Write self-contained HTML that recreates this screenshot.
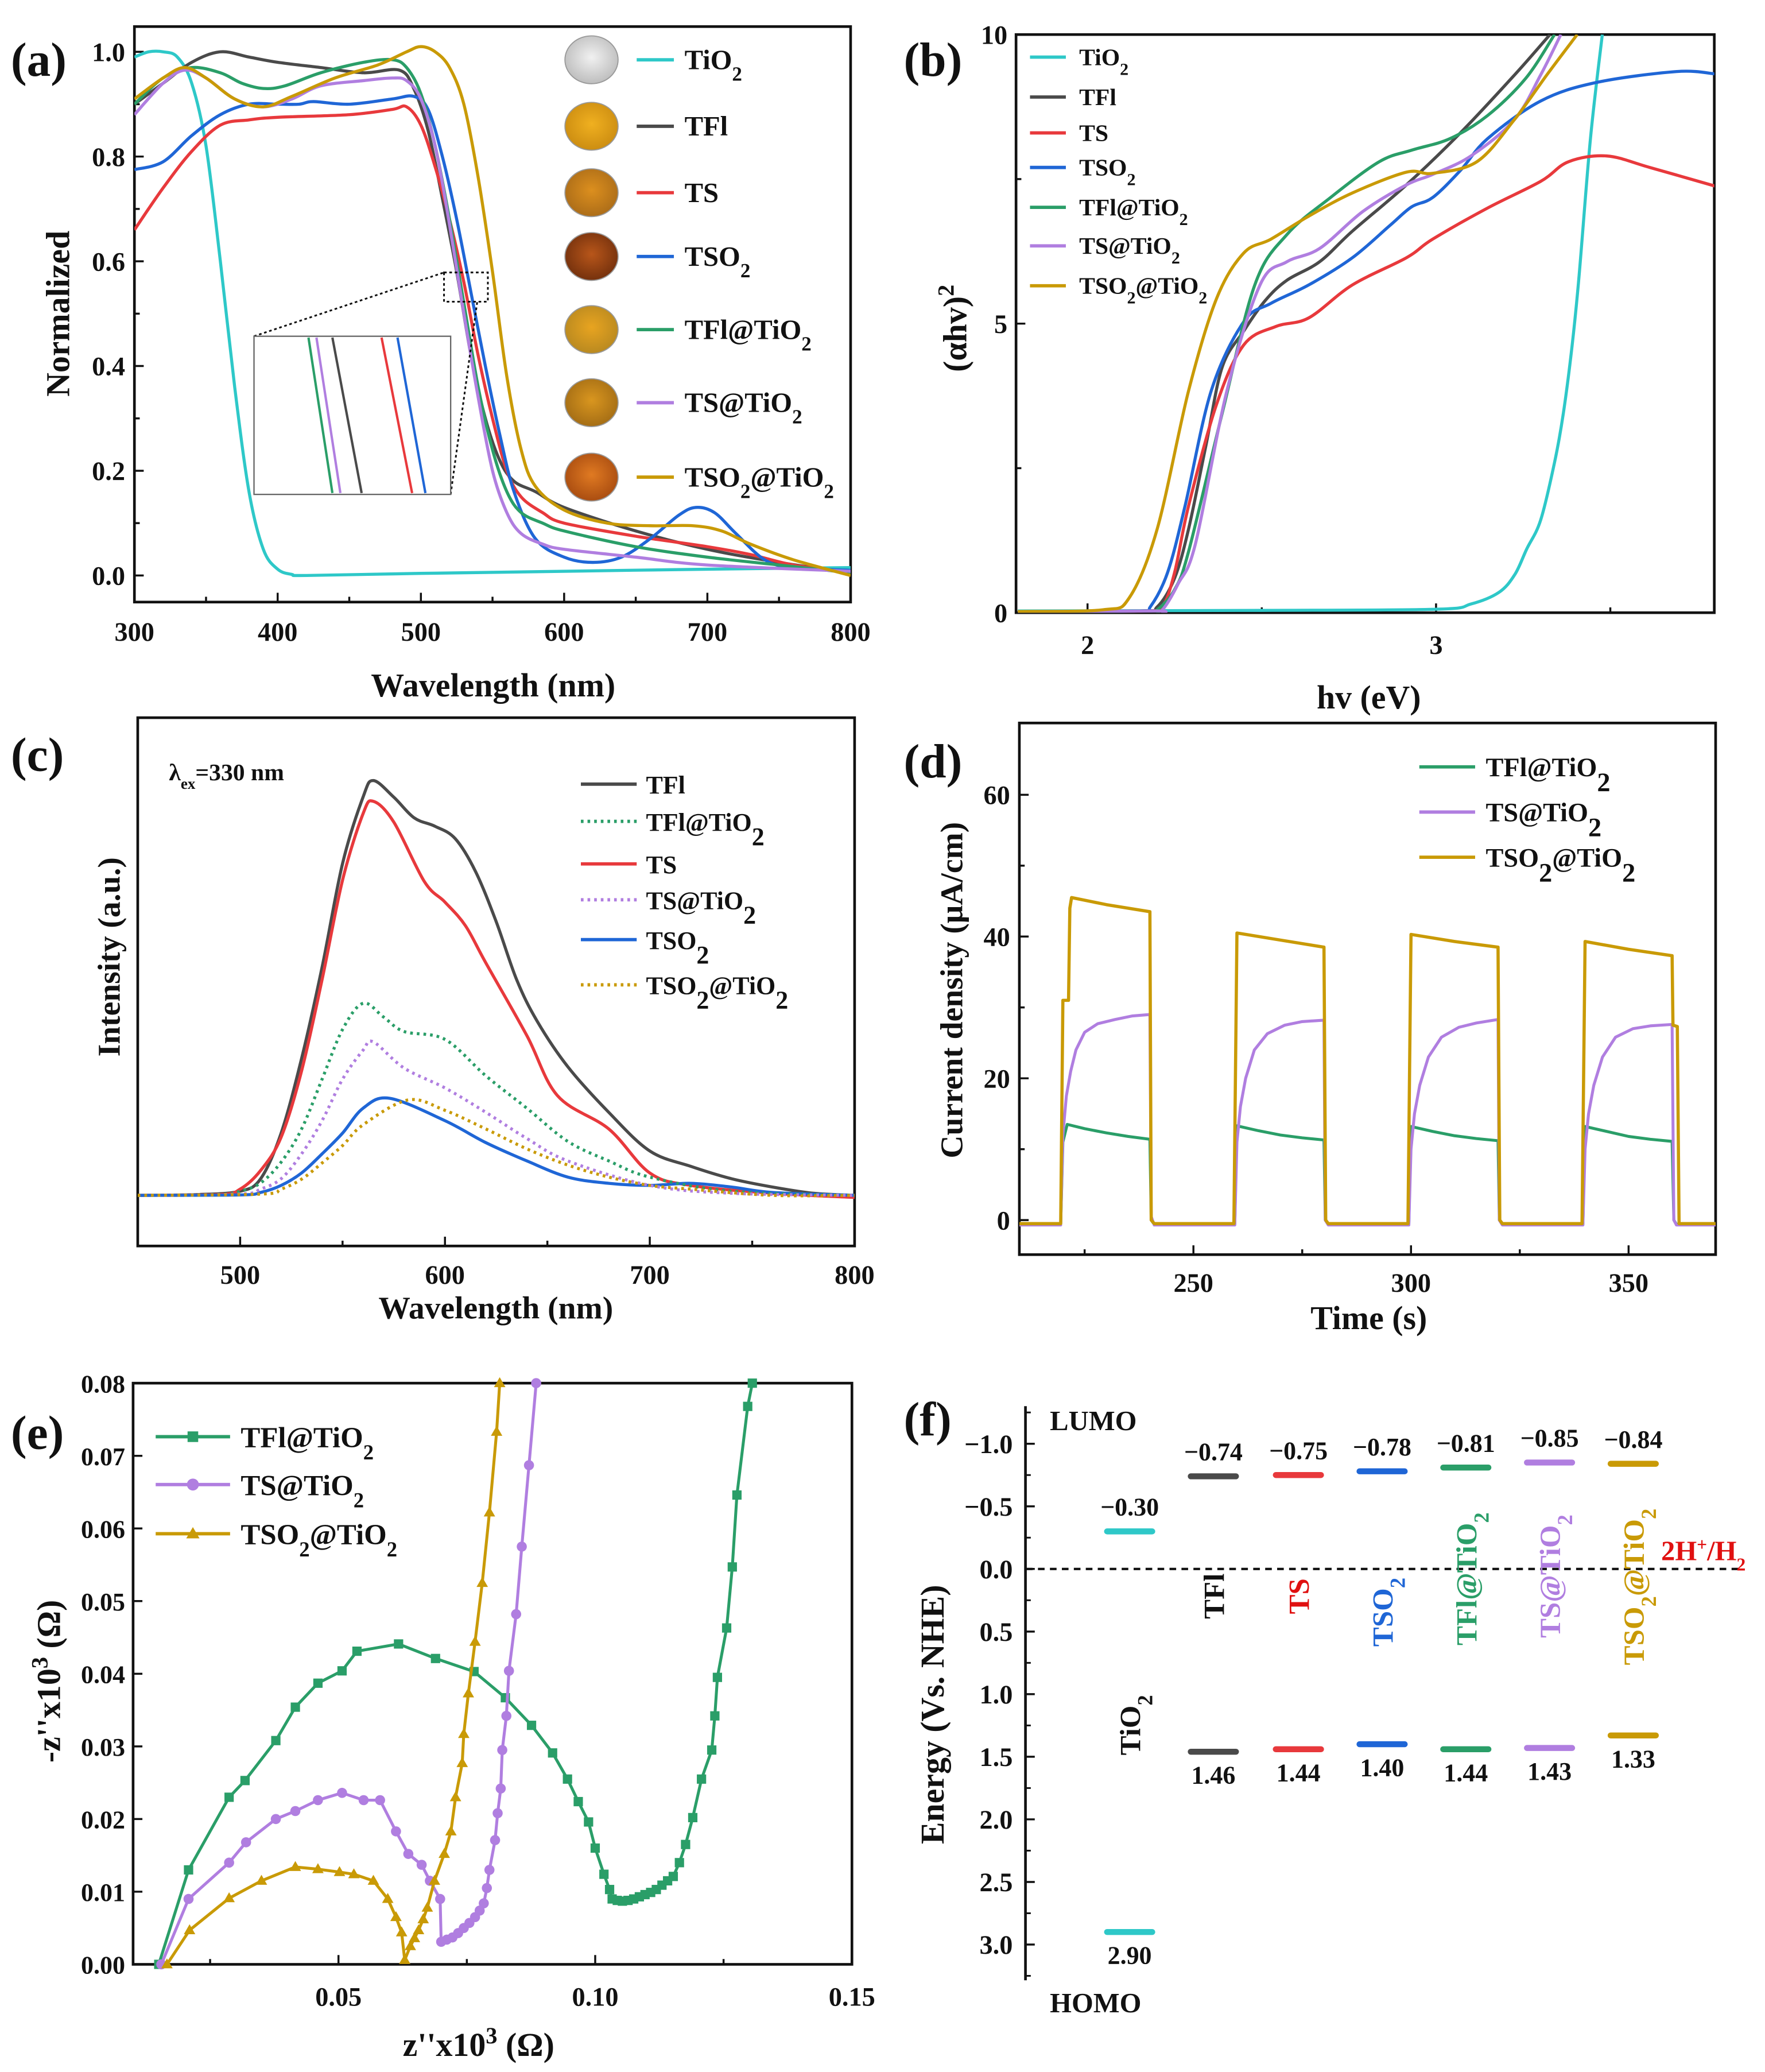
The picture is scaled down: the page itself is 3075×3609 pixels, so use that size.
<!DOCTYPE html>
<html><head><meta charset="utf-8"><style>
html,body{margin:0;padding:0;background:#fff}
svg{display:block}
text{font-family:"Liberation Serif",serif;font-weight:bold}
</style></head><body>
<svg id="fig" xmlns="http://www.w3.org/2000/svg" width="3075" height="3609" viewBox="0 0 1328 1559">
<defs>
<radialGradient id="gw" cx="50%" cy="45%" r="60%"><stop offset="0" stop-color="#f1f1f1"/><stop offset="1" stop-color="#b9b9b9"/></radialGradient>
<radialGradient id="go1" cx="50%" cy="45%" r="60%"><stop offset="0" stop-color="#f0b020"/><stop offset="1" stop-color="#c98a10"/></radialGradient>
<radialGradient id="go2" cx="50%" cy="45%" r="60%"><stop offset="0" stop-color="#dc8f1e"/><stop offset="1" stop-color="#a86a18"/></radialGradient>
<radialGradient id="go3" cx="50%" cy="45%" r="60%"><stop offset="0" stop-color="#b8561a"/><stop offset="1" stop-color="#6f2e0c"/></radialGradient>
<radialGradient id="go4" cx="50%" cy="45%" r="60%"><stop offset="0" stop-color="#e8a420"/><stop offset="1" stop-color="#b58720"/></radialGradient>
<radialGradient id="go5" cx="50%" cy="45%" r="60%"><stop offset="0" stop-color="#d9961f"/><stop offset="1" stop-color="#a06a14"/></radialGradient>
<radialGradient id="go6" cx="50%" cy="45%" r="60%"><stop offset="0" stop-color="#e07a22"/><stop offset="1" stop-color="#a5490f"/></radialGradient>
</defs>
<g id="root"></g>
</svg>
<script>
// ---------- data: panel (a) UV-vis ----------
const aTiO2=[[300,0.99],[310,1.0],[320,1.0],[330,0.99],[340,0.94],[350,0.82],[360,0.6],[370,0.36],[380,0.16],[390,0.05],[400,0.012],[410,0.002],[420,0],[500,0.004],[600,0.008],[700,0.012],[800,0.015]];
const aTFl=[[300,0.9],[320,0.94],[340,0.98],[360,1.0],[380,0.99],[400,0.98],[430,0.97],[460,0.96],[485,0.965],[495,0.93],[505,0.85],[515,0.72],[525,0.58],[535,0.42],[545,0.3],[555,0.22],[565,0.18],[580,0.16],[600,0.13],[650,0.085],[700,0.05],[750,0.025],[800,0.005]];
const aTS=[[300,0.66],[320,0.74],[340,0.81],[360,0.86],[380,0.87],[400,0.875],[450,0.88],[480,0.89],[490,0.895],[500,0.86],[510,0.78],[520,0.68],[530,0.56],[540,0.42],[550,0.3],[560,0.2],[570,0.15],[585,0.12],[600,0.1],[650,0.075],[700,0.055],[730,0.04],[760,0.02],[800,0.005]];
const aTSO2=[[300,0.775],[320,0.79],[340,0.84],[360,0.88],[380,0.9],[400,0.9],[415,0.9],[425,0.905],[450,0.9],[480,0.91],[495,0.915],[505,0.89],[515,0.8],[525,0.68],[535,0.54],[545,0.4],[555,0.27],[565,0.16],[580,0.07],[600,0.035],[620,0.025],[640,0.035],[660,0.07],[680,0.115],[692,0.13],[705,0.12],[720,0.08],[740,0.03],[760,0.015],[800,0.01]];
const aTFlTi=[[300,0.9],[320,0.95],[340,0.97],[360,0.96],[375,0.94],[390,0.93],[405,0.935],[430,0.96],[460,0.98],[480,0.985],[490,0.97],[500,0.92],[510,0.82],[520,0.68],[530,0.52],[540,0.36],[550,0.24],[560,0.16],[570,0.12],[585,0.1],[600,0.085],[650,0.055],[700,0.035],[750,0.02],[800,0.005]];
const aTSTi=[[300,0.88],[320,0.94],[335,0.965],[350,0.95],[370,0.91],[390,0.895],[410,0.91],[430,0.935],[460,0.945],[480,0.95],[490,0.945],[500,0.91],[510,0.82],[520,0.67],[530,0.5],[540,0.34],[550,0.2],[560,0.12],[570,0.08],[585,0.06],[600,0.05],[650,0.035],[700,0.02],[800,0.008]];
const aTSO2Ti=[[300,0.91],[320,0.95],[335,0.97],[350,0.95],[370,0.91],[390,0.895],[410,0.915],[440,0.95],[470,0.975],[490,1.0],[500,1.01],[510,1.0],[520,0.97],[530,0.9],[540,0.76],[550,0.58],[560,0.38],[570,0.24],[580,0.17],[600,0.125],[630,0.1],[660,0.095],[690,0.095],[710,0.085],[730,0.06],[760,0.03],[800,0.0]];
// ---------- data: panel (b) Tauc ----------
const bTiO2=[[1.8,0.03],[2.5,0.04],[3.0,0.06],[3.1,0.15],[3.18,0.35],[3.226,0.66],[3.26,1.1],[3.3,1.6],[3.34,2.6],[3.365,3.44],[3.39,4.6],[3.41,5.8],[3.443,8.2],[3.477,10]];
const bTFl=[[1.8,0.02],[2.15,0.03],[2.2,0.1],[2.25,0.6],[2.29,1.45],[2.34,2.9],[2.386,4.24],[2.448,4.87],[2.51,5.4],[2.572,5.75],[2.666,6.07],[2.76,6.6],[2.915,7.4],[3.07,8.3],[3.225,9.3],[3.327,10]];
const bTS=[[1.8,0.02],[2.17,0.03],[2.215,0.1],[2.25,0.7],[2.29,1.85],[2.37,3.6],[2.448,4.63],[2.54,4.95],[2.635,5.1],[2.76,5.67],[2.915,6.14],[2.99,6.46],[3.148,7.0],[3.3,7.46],[3.38,7.8],[3.49,7.9],[3.614,7.7],[3.8,7.38]];
const bTSO2=[[1.8,0.02],[2.15,0.03],[2.18,0.1],[2.23,0.7],[2.28,1.85],[2.355,3.84],[2.448,5.03],[2.526,5.35],[2.635,5.67],[2.76,6.14],[2.868,6.7],[2.93,7.02],[2.99,7.18],[3.07,7.65],[3.148,8.2],[3.3,8.85],[3.459,9.17],[3.69,9.36],[3.8,9.32]];
const bTFlTi=[[1.8,0.02],[2.17,0.03],[2.2,0.05],[2.25,0.4],[2.29,1.06],[2.386,3.44],[2.48,5.67],[2.572,6.54],[2.697,7.18],[2.837,7.8],[2.93,8.0],[3.04,8.2],[3.148,8.6],[3.257,9.24],[3.34,10]];
const bTSTi=[[1.8,0.02],[2.19,0.03],[2.215,0.05],[2.26,0.5],[2.31,1.2],[2.4,3.84],[2.495,5.67],[2.572,6.07],[2.666,6.3],[2.79,6.94],[2.915,7.4],[2.99,7.58],[3.1,7.9],[3.225,8.53],[3.3,9.3],[3.358,10]];
const bTSO2Ti=[[1.8,0.02],[2.044,0.05],[2.12,0.26],[2.2,1.45],[2.29,3.84],[2.37,5.43],[2.448,6.22],[2.526,6.46],[2.635,6.86],[2.76,7.26],[2.915,7.62],[2.99,7.6],[3.117,7.8],[3.225,8.53],[3.32,9.32],[3.405,10]];
// ---------- data: panel (c) PL ----------
const cTFl=[[450,0],[480,0.2],[500,1],[510,4],[520,15],[530,33],[540,55],[550,80],[560,96],[565,100],[575,96],[585,91],[595,89],[605,86],[615,78],[625,66],[635,52],[645,42],[660,31],[680,20],[700,10.7],[720,7],[740,4],[760,2],[780,0.5],[800,0]];
const cTFlTi=[[450,0],[490,0.2],[500,1],[510,3],[520,8],[530,16],[540,28],[550,40],[560,46.3],[570,43],[580,39.5],[600,37.6],[620,28.8],[640,21],[660,13],[680,8.3],[700,4.4],[740,1],[800,0]];
const cTS=[[450,0],[490,0.2],[500,1.5],[510,6],[520,14],[530,30],[540,52],[550,76],[560,92],[565,95],[575,90],[590,75.6],[600,70.7],[610,65],[620,56],[640,38.5],[655,24],[680,16],[700,5.4],[720,2.4],[760,0.5],[800,-0.5]];
const cTSTi=[[450,0],[500,0.3],[510,1.5],[520,4],[530,10],[540,18],[550,28],[560,35],[565,37],[580,30.7],[600,25.9],[620,20],[640,13.7],[660,8.3],[700,2.4],[740,0.5],[800,0]];
const cTSO2=[[450,0],[500,0.1],[510,0.7],[520,2.4],[530,5.4],[540,10],[550,15],[560,21],[573,23.4],[600,18],[620,12.7],[640,8.3],[660,4.4],[680,2.9],[700,2.4],[720,2.9],[740,2],[760,0.7],[800,0]];
const cTSO2Ti=[[450,0],[510,0.3],[520,1.5],[530,3.9],[540,7.8],[550,12],[560,17],[582,23],[600,20.5],[620,16],[640,11.2],[660,7.3],[680,4.4],[700,2.4],[720,1.5],[760,0],[800,0]];
// ---------- data: panel (d) photocurrent ----------
const dTSO2Ti=[[210,-0.5],[219.5,-0.5],[220,31],[221.3,31],[221.6,44],[222,45.5],[230,44.5],[240,43.5],[240.3,0],[241,-0.5],[259.3,-0.5],[260,40.5],[270,39.5],[280,38.5],[280.4,0],[281,-0.5],[299.3,-0.5],[300,40.3],[310,39.3],[320,38.5],[320.4,0],[321,-0.5],[339.3,-0.5],[340,39.3],[350,38.2],[360,37.3],[360.2,27.5],[361.2,27.3],[361.6,-0.5],[370,-0.5]];
const dTSTi=[[210,-0.7],[219.5,-0.7],[220,12],[220.8,17.5],[221.8,21],[223,24],[225,26.5],[228,27.7],[232,28.3],[236,28.8],[240,29],[240.3,0.5],[241,-0.7],[259.5,-0.7],[260,11],[260.8,16],[262,20],[264,24],[267,26.3],[271,27.5],[275,28],[280,28.2],[280.3,0],[281,-0.7],[299.5,-0.7],[300,10],[300.8,15],[302,19],[304,23],[307,25.8],[311,27.2],[315,27.8],[320,28.3],[320.3,0],[321,-0.7],[339.5,-0.7],[340,10],[340.8,15],[342,19],[344,23],[347,25.8],[351,27],[355,27.4],[360,27.6],[360.4,0],[361,-0.7],[370,-0.7]];
const dTFlTi=[[210,-0.6],[219.5,-0.6],[220,11],[221,13.5],[225,12.9],[230,12.3],[235,11.8],[240,11.4],[240.3,0],[241,-0.6],[259.5,-0.6],[260,13.3],[265,12.6],[270,12],[275,11.6],[280,11.3],[280.3,0],[281,-0.6],[299.5,-0.6],[300,13.2],[305,12.5],[310,11.9],[315,11.5],[320,11.2],[320.3,0],[321,-0.6],[339.5,-0.6],[340,13.2],[345,12.5],[350,11.8],[355,11.4],[360,11.1],[360.4,0],[361,-0.6],[370,-0.6]];
// ---------- data: panel (e) Nyquist ----------
const eTFlTi=[[0.015,0],[0.0208,0.013],[0.0287,0.023],[0.0318,0.0253],[0.0378,0.0308],[0.0416,0.0354],[0.046,0.0387],[0.0507,0.0404],[0.0536,0.0431],[0.0617,0.0441],[0.0689,0.0421],[0.0764,0.0403],[0.0825,0.0367],[0.0876,0.0329],[0.0917,0.0291],[0.0946,0.0255],[0.0967,0.0224],[0.0987,0.0196],[0.1,0.016],[0.1017,0.0124],[0.1028,0.0103],[0.1033,0.009],[0.1043,0.0088],[0.1053,0.0087],[0.1064,0.0088],[0.1075,0.009],[0.1086,0.0093],[0.1097,0.0096],[0.1108,0.0099],[0.1119,0.0103],[0.113,0.0109],[0.1141,0.0115],[0.1152,0.0121],[0.1164,0.014],[0.1176,0.0165],[0.119,0.0202],[0.1207,0.0255],[0.1227,0.0295],[0.1233,0.0342],[0.1238,0.0395],[0.1256,0.0463],[0.1267,0.0547],[0.1276,0.0646],[0.1297,0.0768],[0.1306,0.08]];
const eTSTi=[[0.0155,0],[0.0208,0.009],[0.0287,0.014],[0.032,0.0168],[0.0378,0.02],[0.0416,0.0211],[0.046,0.0226],[0.0507,0.0236],[0.0549,0.0226],[0.0581,0.0226],[0.0612,0.0183],[0.0636,0.0152],[0.0662,0.0137],[0.0678,0.0115],[0.0698,0.009],[0.07,0.0031],[0.0711,0.0034],[0.0722,0.0037],[0.0733,0.0043],[0.0744,0.005],[0.0755,0.0057],[0.0766,0.0065],[0.0775,0.0074],[0.0783,0.0084],[0.0789,0.0105],[0.0794,0.013],[0.0805,0.0171],[0.081,0.0208],[0.0816,0.0242],[0.0819,0.0295],[0.0827,0.0342],[0.0832,0.0404],[0.0846,0.0482],[0.0857,0.0575],[0.0871,0.0687],[0.0885,0.08]];
const eTSO2Ti=[[0.0166,0],[0.021,0.0047],[0.0287,0.0091],[0.035,0.0115],[0.0416,0.0134],[0.046,0.0131],[0.0502,0.0127],[0.053,0.0124],[0.0568,0.0115],[0.0596,0.009],[0.0612,0.0065],[0.0623,0.0044],[0.0629,0.0006],[0.064,0.0025],[0.0648,0.0036],[0.0656,0.0047],[0.0665,0.0062],[0.0673,0.0078],[0.0687,0.0115],[0.0706,0.0152],[0.0719,0.0183],[0.0728,0.023],[0.0741,0.0277],[0.0744,0.0317],[0.0753,0.0373],[0.0766,0.0444],[0.078,0.0525],[0.0794,0.0622],[0.0808,0.0733],[0.0814,0.08]];
// ---------- data: panel (f) energy levels ----------
const fNames=['TiO2','TFl','TS','TSO2','TFl@TiO2','TS@TiO2','TSO2@TiO2'];
const fLumo=[-0.30,-0.74,-0.75,-0.78,-0.81,-0.85,-0.84];
const fHomo=[2.90,1.46,1.44,1.40,1.44,1.43,1.33];
const fLumoLabels=['\u22120.30','\u22120.74','\u22120.75','\u22120.78','\u22120.81','\u22120.85','\u22120.84'];
const fHomoLabels=['2.90','1.46','1.44','1.40','1.44','1.43','1.33'];
const fTicks=[-1.0,-0.5,0.0,0.5,1.0,1.5,2.0,2.5,3.0];

const C={TiO2:'#2ec8c8',TFl:'#4a4a4a',TS:'#e8393c',TSO2:'#1f66d6',TFlTi:'#2a9e68',TSTi:'#b07ee0',TSO2Ti:'#c99a06'};
const NS='http://www.w3.org/2000/svg';
const root=document.getElementById('root');
function mk(tag,attrs,parent,name,inter){
  const e=document.createElementNS(NS,tag);
  for(const k in attrs)e.setAttribute(k,attrs[k]);
  
  
  (parent||root).appendChild(e);return e;
}
function txt(x,y,s,size,parent,name,anchor,fill,rot){
  const t=mk('text',{x:x,y:y,'font-size':size,'text-anchor':anchor||'middle'},parent,name);
  t.style.fill=fill||'#111';
  if(rot)t.setAttribute('transform','rotate(-90 '+x+' '+y+')');
  t.innerHTML=s;return t;
}
const sub=s=>s.replace(/2/g,'<tspan baseline-shift="sub" font-size="72%">2</tspan>');
function lin(d0,d1,r0,r1){return v=>r0+(v-d0)*(r1-r0)/(d1-d0);}
function path(pts,sx,sy){return pts.map((p,i)=>(i?'L':'M')+sx(p[0]).toFixed(2)+','+sy(p[1]).toFixed(2)).join('');}
function smoothPath(pts,sx,sy){
  const P=pts.map(p=>[sx(p[0]),sy(p[1])]);
  let d='M'+P[0][0].toFixed(2)+','+P[0][1].toFixed(2);
  for(let i=0;i<P.length-1;i++){
    const p0=P[i-1]||P[i],p1=P[i],p2=P[i+1],p3=P[i+2]||P[i+1];
    const c1=[p1[0]+(p2[0]-p0[0])/6,p1[1]+(p2[1]-p0[1])/6];
    const c2=[p2[0]-(p3[0]-p1[0])/6,p2[1]-(p3[1]-p1[1])/6];
    d+='C'+c1[0].toFixed(2)+','+c1[1].toFixed(2)+' '+c2[0].toFixed(2)+','+c2[1].toFixed(2)+' '+p2[0].toFixed(2)+','+p2[1].toFixed(2);
  }
  return d;
}
function frame(g,x0,y0,x1,y1,name,clipId){
  mk('rect',{x:x0,y:y0,width:x1-x0,height:y1-y0,fill:'none',stroke:'#111','stroke-width':2},g,name+'-frame');
  const cp=mk('clipPath',{id:clipId},g,name+'-clip');
  mk('rect',{x:x0,y:y0,width:x1-x0,height:y1-y0},cp,name+'-clip-rect');
}
function xTicks(g,vals,labels,sx,y1,ly,size,name,len){
  vals.forEach((v,i)=>{
    mk('line',{x1:sx(v),x2:sx(v),y1:y1,y2:y1-(len||7),stroke:'#111','stroke-width':1.5},g,name+'-tick');
    if(labels[i]!=='')txt(sx(v),ly,labels[i],size,g,name+'-tick-label');
  });
}
function yTicks(g,vals,labels,sy,x0,lx,size,name,len){
  vals.forEach((v,i)=>{
    mk('line',{x1:x0,x2:x0+(len||7),y1:sy(v),y2:sy(v),stroke:'#111','stroke-width':1.5},g,name+'-tick');
    if(labels[i]!=='')txt(lx,sy(v)+7,labels[i],size,g,name+'-tick-label','end');
  });
}
function series(g,pts,sx,sy,color,name,clip,dash,w,smooth){
  const p=mk('path',{d:smooth?smoothPath(pts,sx,sy):path(pts,sx,sy),fill:'none',stroke:color,'stroke-width':w||2.3,'stroke-linejoin':'round','clip-path':'url(#'+clip+')'},g,name);
  if(dash)p.setAttribute('stroke-dasharray',dash);
  return p;
}

// ===== Panel a =====
(function(){
  const g=mk('g',{},root,'panel-a');
  const sx=lin(300,800,101,640), sy=lin(0,1,433,39);
  frame(g,101,20,640,453,'panel-a','clipA');
  xTicks(g,[300,400,500,600,700,800],['300','400','500','600','700','800'],sx,453,482,20,'a-x');
  xTicks(g,[350,450,550,650,750],['','','','',''],sx,453,0,20,'a-x-minor',4);
  yTicks(g,[0,0.2,0.4,0.6,0.8,1.0],['0.0','0.2','0.4','0.6','0.8','1.0'],sy,101,94,20,'a-y');
  yTicks(g,[0.1,0.3,0.5,0.7,0.9],['','','','',''],sy,101,0,20,'a-y-minor',4);
  txt(371,524,'Wavelength (nm)',25,g,'a-x-axis-title');
  txt(52,236,'Normalized',25,g,'a-y-axis-title','middle',null,true);
  txt(8,57,'(a)',36,g,'panel-a-label','start');
  series(g,aTiO2,sx,sy,C.TiO2,'a-series-tio2','clipA',null,2.3,true);
  series(g,aTFl,sx,sy,C.TFl,'a-series-tfl','clipA',null,2.3,true);
  series(g,aTS,sx,sy,C.TS,'a-series-ts','clipA',null,2.3,true);
  series(g,aTSO2,sx,sy,C.TSO2,'a-series-tso2','clipA',null,2.3,true);
  series(g,aTFlTi,sx,sy,C.TFlTi,'a-series-tfl-tio2','clipA',null,2.3,true);
  series(g,aTSTi,sx,sy,C.TSTi,'a-series-ts-tio2','clipA',null,2.3,true);
  series(g,aTSO2Ti,sx,sy,C.TSO2Ti,'a-series-tso2-tio2','clipA',null,2.3,true);
  // inset
  mk('rect',{x:334,y:205,width:33,height:22,fill:'none',stroke:'#111','stroke-width':1.3,'stroke-dasharray':'2,2'},g,'a-zoom-box');
  mk('line',{x1:191,y1:253,x2:334,y2:205,stroke:'#111','stroke-width':1.3,'stroke-dasharray':'2,2'},g,'a-zoom-connector');
  mk('line',{x1:339,y1:372,x2:359,y2:227,stroke:'#111','stroke-width':1.3,'stroke-dasharray':'2,2'},g,'a-zoom-connector');
  mk('rect',{x:191,y:253,width:148,height:119,fill:'#fff',stroke:'#666','stroke-width':1},g,'a-inset');
  [[232,250,C.TFlTi],[238,256,C.TSTi],[250,272,C.TFl],[287,310,C.TS],[299,320,C.TSO2]].forEach(l=>{
    mk('line',{x1:l[0],y1:254,x2:l[1],y2:371,stroke:l[2],'stroke-width':1.8},g,'a-inset-line');
  });
  const lg=mk('g',{},g,'a-legend');
  const items=[['TiO2',C.TiO2,'gw'],['TFl',C.TFl,'go1'],['TS',C.TS,'go2'],['TSO2',C.TSO2,'go3'],['TFl@TiO2',C.TFlTi,'go4'],['TS@TiO2',C.TSTi,'go5'],['TSO2@TiO2',C.TSO2Ti,'go6']];
  const ly=[45,95,145,193,248,303,359];
  items.forEach((it,i)=>{
    mk('ellipse',{cx:445,cy:ly[i],rx:20,ry:18,fill:'url(#'+it[2]+')',stroke:'#999','stroke-width':0.8},lg,'a-legend-sample-photo');
    mk('line',{x1:479,x2:507,y1:ly[i],y2:ly[i],stroke:it[1],'stroke-width':2.5},lg,'a-legend-swatch');
    txt(515,ly[i]+7,sub(it[0]),21,lg,'a-legend-entry','start');
  });
})();

// ===== Panel b =====
(function(){
  const g=mk('g',{},root,'panel-b');
  const sx=lin(2,3,818.3,1080.6), sy=lin(0,10,461,26);
  frame(g,764.5,26,1290,461,'panel-b','clipB');
  xTicks(g,[2,3],['2','3'],sx,461,492,20,'b-x');
  xTicks(g,[2.5,3.5],['',''],sx,461,0,20,'b-x-minor',4);
  yTicks(g,[0,5,10],['0','5','10'],sy,764.5,758,20,'b-y');
  yTicks(g,[2.5,7.5],['',''],sy,764.5,0,20,'b-y-minor',4);
  txt(1030,533,'hv (eV)',25,g,'b-x-axis-title');
  txt(727,247,'(αhv)<tspan baseline-shift="super" font-size="70%">2</tspan>',25,g,'b-y-axis-title','middle',null,true);
  txt(680,57,'(b)',36,g,'panel-b-label','start');
  series(g,bTiO2,sx,sy,C.TiO2,'b-series-tio2','clipB',null,2.3,true);
  series(g,bTFl,sx,sy,C.TFl,'b-series-tfl','clipB',null,2.3,true);
  series(g,bTS,sx,sy,C.TS,'b-series-ts','clipB',null,2.3,true);
  series(g,bTSO2,sx,sy,C.TSO2,'b-series-tso2','clipB',null,2.3,true);
  series(g,bTFlTi,sx,sy,C.TFlTi,'b-series-tfl-tio2','clipB',null,2.3,true);
  series(g,bTSTi,sx,sy,C.TSTi,'b-series-ts-tio2','clipB',null,2.3,true);
  series(g,bTSO2Ti,sx,sy,C.TSO2Ti,'b-series-tso2-tio2','clipB',null,2.3,true);
  const lg=mk('g',{},g,'b-legend');
  const items=[['TiO2',C.TiO2],['TFl',C.TFl],['TS',C.TS],['TSO2',C.TSO2],['TFl@TiO2',C.TFlTi],['TS@TiO2',C.TSTi],['TSO2@TiO2',C.TSO2Ti]];
  const ly=[43,73,100,126,156,185,215];
  items.forEach((it,i)=>{
    mk('line',{x1:775,x2:802,y1:ly[i],y2:ly[i],stroke:it[1],'stroke-width':2.5},lg,'b-legend-swatch');
    txt(812,ly[i]+6,sub(it[0]),18,lg,'b-legend-entry','start');
  });
})();

// ===== Panel c =====
(function(){
  const g=mk('g',{},root,'panel-c');
  const sx=lin(450,800,103.5,643), sy=lin(0,100,899.4,587.3);
  frame(g,103.5,540,643,937.5,'panel-c','clipC');
  xTicks(g,[500,600,700,800],['500','600','700','800'],sx,937.5,966,20,'c-x');
  xTicks(g,[550,650,750],['','',''],sx,937.5,0,20,'c-x-minor',4);
  txt(373,992,'Wavelength (nm)',24,g,'c-x-axis-title');
  txt(90,720,'Intensity (a.u.)',24,g,'c-y-axis-title','middle',null,true);
  txt(8,580,'(c)',36,g,'panel-c-label','start');
  txt(127,587,'λ<tspan baseline-shift="sub" font-size="65%">ex</tspan>=330 nm',18,g,'c-excitation-note','start');
  series(g,cTFl,sx,sy,C.TFl,'c-series-tfl','clipC',null,2.3,true);
  series(g,cTS,sx,sy,C.TS,'c-series-ts','clipC',null,2.3,true);
  series(g,cTSO2,sx,sy,C.TSO2,'c-series-tso2','clipC',null,2.3,true);
  series(g,cTFlTi,sx,sy,C.TFlTi,'c-series-tfl-tio2','clipC','2,3',2.3,true);
  series(g,cTSTi,sx,sy,C.TSTi,'c-series-ts-tio2','clipC','2,3',2.3,true);
  series(g,cTSO2Ti,sx,sy,C.TSO2Ti,'c-series-tso2-tio2','clipC','2,3',2.3,true);
  const lg=mk('g',{},g,'c-legend');
  const items=[['TFl',C.TFl,0],['TFl@TiO2',C.TFlTi,1],['TS',C.TS,0],['TS@TiO2',C.TSTi,1],['TSO2',C.TSO2,0],['TSO2@TiO2',C.TSO2Ti,1]];
  const ly=[590,618,650,677,707,741];
  items.forEach((it,i)=>{
    const l=mk('line',{x1:437,x2:479,y1:ly[i],y2:ly[i],stroke:it[1],'stroke-width':2.5},lg,'c-legend-swatch');
    if(it[2])l.setAttribute('stroke-dasharray','2,3');
    txt(486,ly[i]+7,sub(it[0]).replace(/72%/g,'100%'),19,lg,'c-legend-entry','start');
  });
})();

// ===== Panel d =====
(function(){
  const g=mk('g',{},root,'panel-d');
  const sx=lin(210,370,767,1291), sy=lin(0,60,918,598);
  frame(g,767,544,1291,944,'panel-d','clipD');
  xTicks(g,[250,300,350],['250','300','350'],sx,944,972,20,'d-x');
  xTicks(g,[225,275,325],['','',''],sx,944,0,20,'d-x-minor',4);
  yTicks(g,[0,20,40,60],['0','20','40','60'],sy,767,760,20,'d-y');
  yTicks(g,[10,30,50],['','',''],sy,767,0,20,'d-y-minor',4);
  txt(1030,1000,'Time (s)',25,g,'d-x-axis-title');
  txt(724,745,'Current density (μA/cm)',24,g,'d-y-axis-title','middle',null,true);
  txt(680,585,'(d)',36,g,'panel-d-label','start');
  series(g,dTFlTi,sx,sy,C.TFlTi,'d-series-tfl-tio2','clipD',null,2.2);
  series(g,dTSTi,sx,sy,C.TSTi,'d-series-ts-tio2','clipD',null,2.2);
  series(g,dTSO2Ti,sx,sy,C.TSO2Ti,'d-series-tso2-tio2','clipD',null,2.4);
  const lg=mk('g',{},g,'d-legend');
  const items=[['TFl@TiO2',C.TFlTi],['TS@TiO2',C.TSTi],['TSO2@TiO2',C.TSO2Ti]];
  const ly=[577,611,645];
  items.forEach((it,i)=>{
    mk('line',{x1:1068,x2:1110,y1:ly[i],y2:ly[i],stroke:it[1],'stroke-width':2.5},lg,'d-legend-swatch');
    txt(1118,ly[i]+7,sub(it[0]).replace(/72%/g,'100%'),20,lg,'d-legend-entry','start');
  });
})();

// ===== Panel e =====
(function(){
  const g=mk('g',{},root,'panel-e');
  const sx=lin(0.01,0.15,100,641), sy=lin(0,0.08,1478,1040.7);
  frame(g,100,1040.7,641,1478,'panel-e','clipE');
  xTicks(g,[0.05,0.10,0.15],['0.05','0.10','0.15'],sx,1478,1509,20,'e-x');
  xTicks(g,[0.025,0.075,0.125],['','',''],sx,1478,0,20,'e-x-minor',4);
  yTicks(g,[0,0.01,0.02,0.03,0.04,0.05,0.06,0.07,0.08],['0.00','0.01','0.02','0.03','0.04','0.05','0.06','0.07','0.08'],sy,100,94,19,'e-y');
  txt(360,1547,'z\'\'x10<tspan baseline-shift="super" font-size="70%">3</tspan> (Ω)',25,g,'e-x-axis-title');
  txt(45,1265,'-z\'\'x10<tspan baseline-shift="super" font-size="70%">3</tspan> (Ω)',25,g,'e-y-axis-title','middle',null,true);
  txt(8,1090,'(e)',36,g,'panel-e-label','start');
  function markers(pts,color,shape,name){
    pts.forEach(p=>{
      const x=sx(p[0]),y=sy(p[1]);
      if(y<1038)return;
      if(shape==='s')mk('rect',{x:x-3.5,y:y-3.5,width:7,height:7,fill:color},g,name);
      else if(shape==='c')mk('circle',{cx:x,cy:y,r:3.8,fill:color},g,name);
      else mk('path',{d:'M'+x+','+(y-4.5)+'L'+(x+4.3)+','+(y+3)+'L'+(x-4.3)+','+(y+3)+'Z',fill:color},g,name);
    });
  }
  series(g,eTFlTi,sx,sy,C.TFlTi,'e-series-tfl-tio2','clipE',null,2.2);
  markers(eTFlTi,C.TFlTi,'s','e-point-tfl-tio2');
  series(g,eTSTi,sx,sy,C.TSTi,'e-series-ts-tio2','clipE',null,2.2);
  markers(eTSTi,C.TSTi,'c','e-point-ts-tio2');
  series(g,eTSO2Ti,sx,sy,C.TSO2Ti,'e-series-tso2-tio2','clipE',null,2.2);
  markers(eTSO2Ti,C.TSO2Ti,'t','e-point-tso2-tio2');
  const lg=mk('g',{},g,'e-legend');
  const items=[['TFl@TiO2',C.TFlTi,'s'],['TS@TiO2',C.TSTi,'c'],['TSO2@TiO2',C.TSO2Ti,'t']];
  const ly=[1081,1117,1154];
  items.forEach((it,i)=>{
    mk('line',{x1:117,x2:173,y1:ly[i],y2:ly[i],stroke:it[1],'stroke-width':2.5},lg,'e-legend-swatch');
    const x=145,y=ly[i];
    if(it[2]==='s')mk('rect',{x:x-4,y:y-4,width:8,height:8,fill:it[1]},lg,'e-legend-marker');
    else if(it[2]==='c')mk('circle',{cx:x,cy:y,r:4.5,fill:it[1]},lg,'e-legend-marker');
    else mk('path',{d:'M'+x+','+(y-5)+'L'+(x+5)+','+(y+3.5)+'L'+(x-5)+','+(y+3.5)+'Z',fill:it[1]},lg,'e-legend-marker');
    txt(181,y+8,sub(it[0]),22,lg,'e-legend-entry','start');
  });
})();

// ===== Panel f =====
(function(){
  const g=mk('g',{},root,'panel-f');
  const sy=lin(0,1,1180.5,1274.7);
  const xs=[850,913,977,1040,1103,1166,1229];
  const cols=[C.TiO2,C.TFl,C.TS,C.TSO2,C.TFlTi,C.TSTi,C.TSO2Ti];
  const nameCols=['#111','#111','#e01010',C.TSO2,C.TFlTi,C.TSTi,C.TSO2Ti];
  const nameY=[1298,1201,1201,1213,1188,1186,1194];
  mk('line',{x1:771.6,x2:771.6,y1:1058,y2:1490,stroke:'#111','stroke-width':2},g,'f-y-axis-line');
  yTicks(g,fTicks,fTicks.map(v=>v<0?'\u2212'+Math.abs(v).toFixed(1):v.toFixed(1)),sy,771.6,762,20,'f-y');
  for(let v=-1.25;v<=3.26;v+=0.5)mk('line',{x1:771.6,x2:775.6,y1:sy(v),y2:sy(v),stroke:'#111','stroke-width':1.3},g,'f-y-minor-tick');
  txt(710,1290,'Energy (Vs. NHE)',25,g,'f-y-axis-title','middle',null,true);
  txt(680,1080,'(f)',36,g,'panel-f-label','start');
  txt(790,1076,'LUMO',21,g,'f-lumo-label','start');
  txt(790,1514,'HOMO',21,g,'f-homo-label','start');
  mk('line',{x1:772,x2:1312,y1:sy(0),y2:sy(0),stroke:'#111','stroke-width':1.8,'stroke-dasharray':'5,4'},g,'f-reference-line');
  txt(1250,1174,'2H<tspan baseline-shift="super" font-size="65%">+</tspan>/H<tspan baseline-shift="sub" font-size="65%">2</tspan>',21,g,'f-reference-label','start','#e01010');
  fNames.forEach((n,i)=>{
    mk('line',{x1:xs[i]-17,x2:xs[i]+17,y1:sy(fLumo[i]),y2:sy(fLumo[i]),stroke:cols[i],'stroke-width':4.5,'stroke-linecap':'round'},g,'f-lumo-bar');
    mk('line',{x1:xs[i]-17,x2:xs[i]+17,y1:sy(fHomo[i]),y2:sy(fHomo[i]),stroke:cols[i],'stroke-width':4.5,'stroke-linecap':'round'},g,'f-homo-bar');
    txt(xs[i],sy(fLumo[i])-12,fLumoLabels[i],19,g,'f-lumo-value');
    txt(xs[i],sy(fHomo[i])+24,fHomoLabels[i],19,g,'f-homo-value');
    txt(xs[i]+8,nameY[i],sub(n),22,g,'f-material-label','middle',nameCols[i],true);
  });
})();
</script>
</body></html>
